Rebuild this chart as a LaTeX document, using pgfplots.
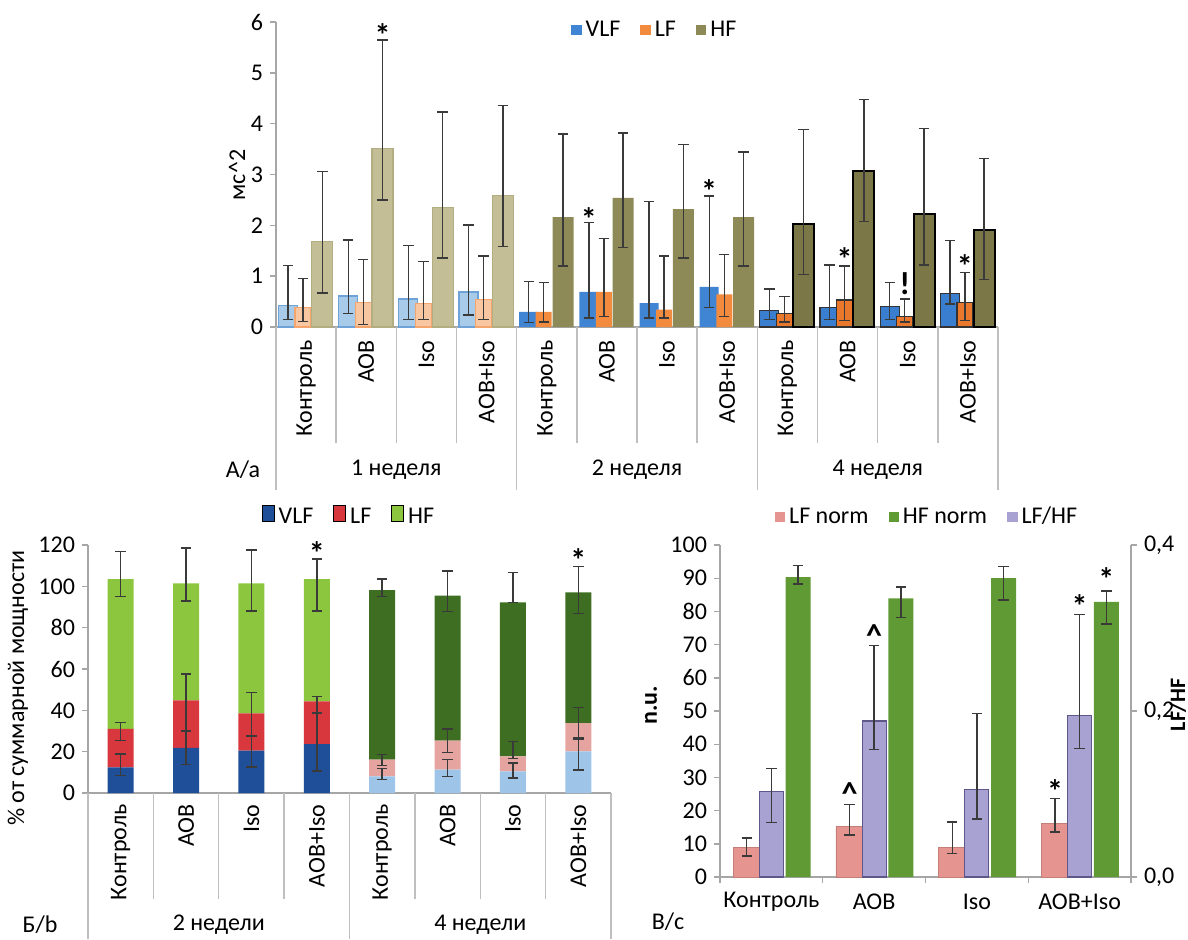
\documentclass[border=0pt]{standalone}
\usepackage{fontspec}
\setmainfont{Carlito}
\usepackage{pgfplots}
\pgfplotsset{compat=1.18}

\definecolor{axgray}{HTML}{A6A6A6}
\definecolor{sepgray}{HTML}{BFBFBF}
\definecolor{errc}{HTML}{3A3A3A}
\definecolor{vlfa}{HTML}{A9CBEA}\definecolor{vlfae}{HTML}{6FA3D8}
\definecolor{lfa}{HTML}{F8C7A2}\definecolor{lfae}{HTML}{F3A56D}
\definecolor{hfa}{HTML}{C3BE96}\definecolor{hfae}{HTML}{B3AD82}
\definecolor{vlfb}{HTML}{3F85D3}
\definecolor{lfb}{HTML}{F28B3E}
\definecolor{hfb}{HTML}{8D8A58}
\definecolor{vlfc}{HTML}{3A7ECF}
\definecolor{lfc}{HTML}{E9782C}
\definecolor{hfc}{HTML}{7C7747}
\definecolor{bvlfa}{HTML}{1F4F99}\definecolor{blfa}{HTML}{D8373E}\definecolor{bhfa}{HTML}{8CC63F}
\definecolor{bvlfb}{HTML}{9EC4E8}\definecolor{blfb}{HTML}{E6A4A1}\definecolor{bhfb}{HTML}{3E6E22}
\definecolor{clf}{HTML}{E5948F}\definecolor{chf}{HTML}{5F9A34}\definecolor{crat}{HTML}{A8A2D3}\definecolor{crate}{HTML}{5D5889}

\pgfplotsset{
  errbar/.style={error bars/y dir=both, error bars/y explicit,
    error bars/error bar style={draw=errc, line width=0.7pt},
    error bars/error mark options={draw=errc, line width=0.7pt, mark size=2.6pt, rotate=90}},
  base/.style={scale only axis, clip=false,
    axis x line*=bottom, axis y line*=left,
    axis line style={draw=axgray, line width=0.7pt, -},
    tick style={draw=axgray, line width=0.7pt},
    tick align=outside, major tick length=3pt,
    ticklabel style={font=\fontsize{12}{14}\selectfont},
    /pgf/number format/assume math mode=true,
    legend style={draw=none, fill=none, font=\fontsize{12}{14}\selectfont,
      legend columns=3, /tikz/every even column/.append style={column sep=8pt}},
    legend image code/.code={\fill[##1] (1pt,-2.6pt) rectangle (6.2pt,2.6pt);}},
}
\tikzset{ann/.style={font=\fontsize{16}{16}\selectfont\bfseries, inner sep=0pt}}

\begin{document}
\begin{tikzpicture}[font=\fontsize{12}{14}\selectfont]
\path[use as bounding box] (0pt,0pt) rectangle (594pt,-469.5pt);

% ================= Panel A =================
\begin{axis}[base, at={(138pt,-163.5pt)}, anchor=south west,
  width=361pt, height=152.5pt,
  xmin=-0.5, xmax=11.5, ymin=0, ymax=6, ytick={0,1,...,6}, xtick=\empty,
  legend style={at={(0.526,0.974)}, anchor=center}]
\addlegendimage{fill=vlfb, draw=none}
\addlegendimage{fill=lfb, draw=none}
\addlegendimage{fill=hfb, draw=none}
% week 1
\addplot[ybar, bar width=9.5pt, bar shift=0pt, fill=vlfa, draw=vlfae, line width=0.6pt, forget plot, errbar]
 coordinates {(-0.30,0.42) += (0,0.79) -= (0,0.27) (0.70,0.61) += (0,1.10) -= (0,0.35) (1.70,0.55) += (0,1.05) -= (0,0.40) (2.70,0.69) += (0,1.32) -= (0,0.45)};
\addplot[ybar, bar width=8pt, bar shift=0pt, fill=lfa, draw=lfae, line width=0.6pt, forget plot, errbar]
 coordinates {(-0.05,0.38) += (0,0.57) -= (0,0.27) (0.95,0.49) += (0,0.84) -= (0,0.44) (1.95,0.47) += (0,0.82) -= (0,0.32) (2.95,0.54) += (0,0.86) -= (0,0.39)};
\addplot[ybar, bar width=10.5pt, bar shift=0pt, fill=hfa, draw=hfae, line width=0.6pt, forget plot, errbar]
 coordinates {(0.27,1.68) += (0,1.38) -= (0,1.01) (1.27,3.51) += (0,2.14) -= (0,1.01) (2.27,2.35) += (0,1.88) -= (0,0.99) (3.27,2.58) += (0,1.78) -= (0,1.00)};
% week 2
\addplot[ybar, bar width=9.5pt, bar shift=0pt, fill=vlfb, draw=none, forget plot, errbar]
 coordinates {(3.70,0.30) += (0,0.60) -= (0,0.21) (4.70,0.69) += (0,1.37) -= (0,0.51) (5.70,0.47) += (0,2.00) -= (0,0.29) (6.70,0.79) += (0,1.79) -= (0,0.41)};
\addplot[ybar, bar width=8pt, bar shift=0pt, fill=lfb, draw=none, forget plot, errbar]
 coordinates {(3.95,0.30) += (0,0.58) -= (0,0.20) (4.95,0.69) += (0,1.05) -= (0,0.48) (5.95,0.34) += (0,1.06) -= (0,0.16) (6.95,0.64) += (0,0.79) -= (0,0.43)};
\addplot[ybar, bar width=10.5pt, bar shift=0pt, fill=hfb, draw=none, forget plot, errbar]
 coordinates {(4.27,2.16) += (0,1.64) -= (0,0.96) (5.27,2.54) += (0,1.28) -= (0,0.98) (6.27,2.32) += (0,1.27) -= (0,0.96) (7.27,2.16) += (0,1.28) -= (0,0.96)};
% week 4
\addplot[ybar, bar width=9.5pt, bar shift=0pt, fill=vlfc, draw=black!80, line width=0.6pt, forget plot, errbar]
 coordinates {(7.70,0.33) += (0,0.42) -= (0,0.18) (8.70,0.39) += (0,0.83) -= (0,0.24) (9.70,0.41) += (0,0.47) -= (0,0.26) (10.70,0.66) += (0,1.04) -= (0,0.21)};
\addplot[ybar, bar width=8pt, bar shift=0pt, fill=lfc, draw=black!80, line width=0.6pt, forget plot, errbar]
 coordinates {(7.95,0.27) += (0,0.33) -= (0,0.17) (8.95,0.53) += (0,0.67) -= (0,0.40) (9.95,0.20) += (0,0.35) -= (0,0.10) (10.95,0.49) += (0,0.58) -= (0,0.36)};
\addplot[ybar, bar width=10.5pt, bar shift=0pt, fill=hfc, draw=black, line width=1pt, forget plot, errbar]
 coordinates {(8.27,2.03) += (0,1.85) -= (0,1.00) (9.27,3.07) += (0,1.40) -= (0,1.00) (10.27,2.22) += (0,1.68) -= (0,1.00) (11.27,1.91) += (0,1.41) -= (0,0.97)};
\legend{VLF,LF,HF}
\node[ann] at (axis cs:1.27,5.75) {*};
\node[ann] at (axis cs:4.7,2.12) {*};
\node[ann] at (axis cs:6.7,2.68) {*};
\node[ann] at (axis cs:8.95,1.33) {*};
\node[ann] at (axis cs:9.95,0.85) {!};
\node[ann] at (axis cs:10.95,1.2) {*};
\end{axis}

% ================= Panel B (2 weeks) =================
\begin{axis}[base, at={(44pt,-396.5pt)}, anchor=south west,
  width=261.5pt, height=124pt,
  xmin=-0.5, xmax=7.5, ymin=0, ymax=120, ytick={0,20,...,120}, xtick=\empty,
  ybar stacked, bar width=13pt,
  legend style={at={(0.501,1.11)}, anchor=center}]
\addlegendimage{fill=bvlfa, draw=none}
\addlegendimage{fill=blfa, draw=none}
\addlegendimage{fill=bhfa, draw=none}
\addplot[fill=bvlfa, draw=none, forget plot, errbar]
 coordinates {(0,12.4) += (0,6.5) -= (0,4.0) (1,21.8) += (0,8.0) -= (0,8.0) (2,20.5) += (0,7.2) -= (0,8.0) (3,23.7) += (0,15.0) -= (0,13.0)};
\addplot[fill=blfa, draw=none, forget plot, errbar]
 coordinates {(0,18.6) += (0,3.2) -= (0,5.7) (1,23.0) += (0,12.8) -= (0,14.6) (2,18.0) += (0,10.2) -= (0,11.0) (3,20.6) += (0,2.4) -= (0,5.2)};
\addplot[fill=bhfa, draw=none, forget plot, errbar]
 coordinates {(0,72.5) += (0,13.5) -= (0,8.5) (1,56.7) += (0,17.0) -= (0,8.5) (2,63.0) += (0,16.1) -= (0,13.5) (3,59.2) += (0,9.7) -= (0,15.5)};
\legend{VLF,LF,HF}
\node[ann, white] at (axis cs:1,5.5) {\textasciicircum};
\node[ann, white] at (axis cs:3,3.8) {*};
\node[ann] at (axis cs:3,116) {*};
\end{axis}
% ================= Panel B (4 weeks) =================
\begin{axis}[base, hide axis, at={(44pt,-396.5pt)}, anchor=south west,
  width=261.5pt, height=124pt,
  xmin=-0.5, xmax=7.5, ymin=0, ymax=120,
  ybar stacked, bar width=13pt]
\addplot[fill=bvlfb, draw=none, errbar]
 coordinates {(4,8.0) += (0,4.0) -= (0,1.6) (5,11.3) += (0,5.0) -= (0,3.3) (6,10.5) += (0,4.0) -= (0,3.3) (7,20.1) += (0,6.0) -= (0,9.0)};
\addplot[fill=blfb, draw=none, errbar]
 coordinates {(4,8.1) += (0,2.4) -= (0,2.7) (5,14.0) += (0,5.6) -= (0,5.6) (6,7.2) += (0,7.3) -= (0,1.0) (7,13.7) += (0,7.6) -= (0,7.2)};
\addplot[fill=bhfb, draw=none, errbar]
 coordinates {(4,82.1) += (0,5.3) -= (0,3.2) (5,70.2) += (0,11.9) -= (0,7.7) (6,74.6) += (0,14.5) -= (0,0.0) (7,63.3) += (0,12.4) -= (0,10.1)};
\node[ann] at (axis cs:5,18) {\textasciicircum};
\node[ann] at (axis cs:7,6) {\textasciicircum};
\node[ann] at (axis cs:7,112.5) {*};
\end{axis}

% ================= Panel C =================
\begin{axis}[base, at={(360pt,-438.5pt)}, anchor=south west,
  width=205.5pt, height=166pt,
  xmin=-0.5, xmax=3.5, ymin=0, ymax=100, ytick={0,10,...,100},
  xtick={-0.5,0.5,1.5,2.5,3.5}, xticklabels={}]
\addplot[ybar, bar width=13.5pt, bar shift=0pt, fill=clf, draw=clf!85!black, line width=0.4pt, errbar]
 coordinates {(-0.24,9.0) += (0,2.8) -= (0,2.7) (0.76,15.3) += (0,6.6) -= (0,2.7) (1.76,9.0) += (0,7.6) -= (0,2.0) (2.76,16.1) += (0,7.5) -= (0,2.5)};
\addplot[ybar, bar width=12.5pt, bar shift=0pt, fill=chf, draw=none, errbar]
 coordinates {(0.26,90.3) += (0,3.6) -= (0,2.1) (1.26,83.9) += (0,3.5) -= (0,5.7) (2.26,90.0) += (0,3.5) -= (0,6.6) (3.26,82.9) += (0,3.3) -= (0,6.7)};
\node[ann] at (axis cs:0.76,25) {\textasciicircum};
\node[ann] at (axis cs:1,72.8) {\textasciicircum};
\node[ann] at (axis cs:2.76,26) {*};
\node[ann] at (axis cs:3,81.5) {*};
\node[ann] at (axis cs:3.26,89.6) {*};
\end{axis}
\begin{axis}[base, at={(360pt,-438.5pt)}, anchor=south west,
  width=205.5pt, height=166pt,
  xmin=-0.5, xmax=3.5, ymin=0, ymax=0.4, ytick={0,0.2,0.4},
  axis y line*=right, axis x line=none,
  yticklabel style={/pgf/number format/.cd, fixed, fixed zerofill, precision=1, use comma},
  legend style={at={(0.506,1.084)}, anchor=center}]
\addlegendimage{fill=clf, draw=none}
\addlegendimage{fill=chf, draw=none}
\addlegendimage{fill=crat, draw=none}
\addplot[ybar, bar width=12pt, bar shift=0pt, fill=crat, draw=crate, line width=0.6pt, forget plot, errbar]
 coordinates {(0,0.103) += (0,0.028) -= (0,0.037) (1,0.188) += (0,0.091) -= (0,0.034) (2,0.105) += (0,0.092) -= (0,0.035) (3,0.195) += (0,0.121) -= (0,0.040)};
\legend{LF norm,HF norm,LF/HF}
\end{axis}

% ================= decorations (pixel coordinates) =================
\begin{scope}[x=0.5pt,y=-0.5pt]
% Panel A
\foreach \k in {1,2,3,5,6,7,9,10,11} \draw[sepgray, line width=0.7pt] ({276+60.1667*\k},327) -- ++(0,116);
\foreach \k in {0,4,8,12} \draw[sepgray, line width=0.7pt] ({276+60.1667*\k},327) -- ++(0,163);
\foreach \k/\t in {0/Контроль,1/AOB,2/Iso,3/AOB+Iso,4/Контроль,5/AOB,6/Iso,7/AOB+Iso,8/Контроль,9/AOB,10/Iso,11/AOB+Iso}
  \node[rotate=90, anchor=east, inner sep=0pt] at ({276+60.1667*(\k+0.5)},340) {\t};
\node at (243,470) {A/a};
\node at (396.3,470) {1 неделя};
\node at (637,470) {2 неделя};
\node at (877.7,470) {4 неделя};
\node[rotate=90] at (237,175) {мс\textasciicircum 2};
% Panel B
\foreach \k in {1,2,3,5,6,7} \draw[sepgray, line width=0.7pt] ({88+65.375*\k},793) -- ++(0,106);
\foreach \k in {0,4,8} \draw[sepgray, line width=0.7pt] ({88+65.375*\k},793) -- ++(0,146);
\foreach \k/\t in {0/Контроль,1/AOB,2/Iso,3/AOB+Iso,4/Контроль,5/AOB,6/Iso,7/AOB+Iso}
  \node[rotate=90, anchor=east, inner sep=0pt] at ({88+65.375*(\k+0.5)},804) {\t};
\node at (40,925) {Б/b};
\node at (218.75,925) {2 недели};
\node at (480.25,925) {4 недели};
\node[rotate=90] at (18,688) {\% от суммарной мощности};
% Panel C
\foreach \k/\t in {0/Контроль,1/AOB,2/Iso,3/AOB+Iso}
  \node at ({720+102.75*(\k+0.5)},902) {\t};
\node at (668,922) {В/с};
\node[rotate=90, font=\fontsize{12}{14}\selectfont\bfseries] at (651,705) {n.u.};
\node[rotate=90, inner sep=0pt, font=\fontsize{11}{12}\selectfont\bfseries] at (1178,705) {LF/HF};
\end{scope}
\end{tikzpicture}
\end{document}
